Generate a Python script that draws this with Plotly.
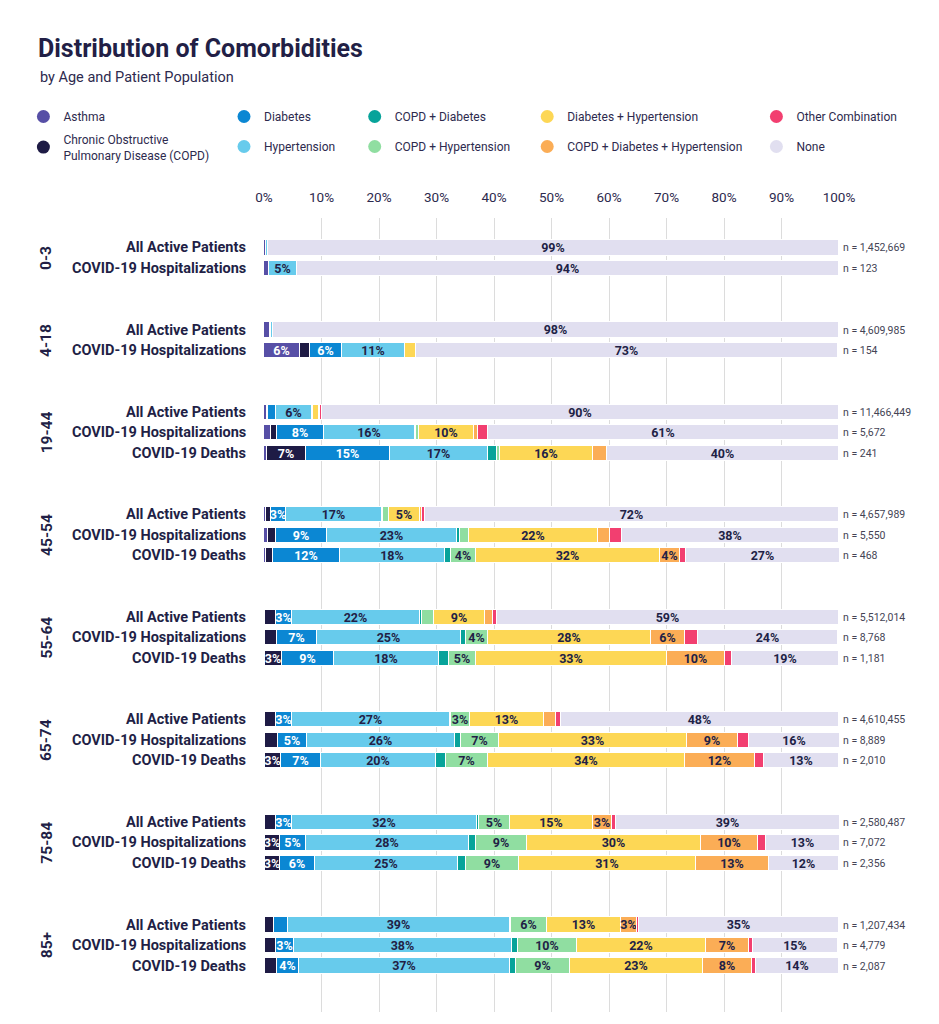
import plotly.graph_objects as go

# ---------------- data ----------------
age_groups = ["0-3", "4-18", "19-44", "45-54", "55-64", "65-74", "75-84", "85+"]
group_sizes = [2, 2, 3, 3, 3, 3, 3, 3]
populations = ["All Active Patients", "COVID-19 Hospitalizations", "COVID-19 Deaths"]

n_patients = [1452669, 123, 4609985, 154, 11466449, 5672, 241, 4657989, 5550, 468,
              5512014, 8768, 1181, 4610455, 8889, 2010, 2580487, 7072, 2356,
              1207434, 4779, 2087]

series_names = ["Asthma", "Chronic Obstructive Pulmonary Disease (COPD)", "Diabetes",
                "Hypertension", "COPD + Diabetes", "COPD + Hypertension",
                "Diabetes + Hypertension", "COPD + Diabetes + Hypertension",
                "Other Combination", "None"]
legend_labels = ["Asthma", "Chronic Obstructive<br>Pulmonary Disease (COPD)", "Diabetes",
                 "Hypertension", "COPD + Diabetes", "COPD + Hypertension",
                 "Diabetes + Hypertension", "COPD + Diabetes + Hypertension",
                 "Other Combination", "None"]

asthma = [0.4, 0.8, 1.0, 6.3, 0.5, 1.2, 0.6, 0.4, 0.75, 0.35, 0.2, 0.15, 0.1, 0.1, 0.1,
          0.1, 0.1, 0.1, 0.1, 0.1, 0.1, 0.1]
copd = [0.0, 0.0, 0.0, 1.7, 0.2, 1.0, 6.7, 0.8, 1.25, 1.25, 1.8, 2.05, 3.1, 1.9, 2.3,
        2.9, 1.9, 2.6, 2.7, 1.7, 2.0, 2.1]
diabetes = [0.0, 0.0, 0.3, 5.6, 1.3, 8.2, 14.6, 2.7, 8.9, 11.6, 2.9, 7.1, 9.0, 2.9, 5.0,
            6.9, 2.9, 4.6, 6.0, 2.3, 3.2, 3.8]
hypertension = [0.3, 4.9, 0.3, 10.9, 6.3, 15.9, 17.0, 16.7, 22.7, 18.3, 22.3, 25.0, 18.2,
                27.4, 25.8, 20.0, 32.1, 28.4, 24.9, 38.6, 37.8, 36.7]
copd_diabetes = [0.0, 0.0, 0.0, 0.0, 0.1, 0.2, 1.7, 0.1, 0.4, 1.1, 0.3, 0.9, 1.8, 0.2, 1.1,
                 1.8, 0.4, 1.2, 1.5, 0.2, 1.0, 1.2]
copd_hypertension = [0.0, 0.0, 0.0, 0.0, 0.1, 0.5, 0.4, 1.0, 1.6, 4.3, 2.0, 3.8, 4.6, 3.3,
                     6.6, 7.3, 5.3, 8.8, 9.1, 6.4, 10.4, 9.4]
diabetes_hypertension = [0.0, 0.0, 0.0, 2.0, 1.1, 9.6, 16.2, 5.4, 22.4, 31.9, 8.9, 28.3,
                         33.3, 12.9, 32.6, 34.2, 14.6, 30.3, 30.9, 12.8, 22.4, 23.1]
copd_diabetes_hypertension = [0.0, 0.0, 0.0, 0.0, 0.1, 0.6, 2.4, 0.3, 2.2, 3.6, 1.4, 5.9,
                              10.0, 2.0, 8.9, 12.2, 3.3, 9.9, 12.7, 2.7, 7.4, 8.4]
other_combination = [0.0, 0.0, 0.0, 0.0, 0.3, 1.7, 0.0, 0.6, 2.0, 1.0, 0.8, 2.3, 1.3, 1.0,
                     2.0, 1.6, 0.7, 1.4, 0.0, 0.5, 0.7, 0.8]
none = [99.3, 94.3, 98.4, 73.4, 90.0, 61.1, 40.4, 72.0, 37.8, 26.8, 59.4, 24.4, 18.6, 48.3,
        15.7, 13.0, 38.8, 12.8, 12.1, 34.7, 14.8, 14.4]

series_values = [asthma, copd, diabetes, hypertension, copd_diabetes, copd_hypertension,
                 diabetes_hypertension, copd_diabetes_hypertension, other_combination, none]

# ---------------- style ----------------
series_colors = ["#574fa6", "#1e1b45", "#0b87d3", "#67cbec", "#07a39a", "#90dea1",
                 "#fdd755", "#fbad56", "#f23f70", "#e1dff0"]
label_colors = ["white", "white", "white", "#221f46", "#221f46", "#221f46",
                "#221f46", "#221f46", "#221f46", "#221f46"]
NAVY = "#221f46"
TXT = "#2d2a4e"
FONT = "Roboto, Liberation Sans, sans-serif"

W, H = 939, 1024
L, R, T, B = 264, 100, 218, 12
PW, PH = W - L - R, H - T - B


def px_to_paper_x(px):
    return (px - L) / PW


def px_to_paper_y(py):
    return (H - B - py) / PH


# rows: positions derived from group structure (2 blank rows between groups)
row_group, row_label, row_pos = [], [], []
p = 0
for g, size in zip(age_groups, group_sizes):
    for i in range(size):
        row_group.append(g)
        row_label.append(populations[i])
        row_pos.append(p + i)
    p += size + 2

fig = go.Figure()

for i, (name, vals, color) in enumerate(zip(series_names, series_values, series_colors)):
    txt = [f"{round(v)}%" if round(v) >= 3 else "" for v in vals]
    fig.add_trace(go.Bar(
        x=vals, y=row_pos, orientation="h", name=name, width=0.74,
        marker=dict(color=color, line=dict(color="white", width=1)),
        text=txt, textposition="inside", insidetextanchor="middle", textangle=0,
        insidetextfont=dict(color=label_colors[i], size=12.5, family=FONT, weight=700),
        showlegend=False, hoverinfo="skip"))

# legend entries (circles) in 5 columns, markers kept off the visible range
legend_dot_px = [46.7, 247.3, 378, 550.5, 779.7]
for i, (lab, color) in enumerate(zip(legend_labels, series_colors)):
    col = i // 2
    fig.add_trace(go.Scatter(
        x=[-50], y=[-50], mode="markers", name=lab, legendgroup=series_names[i],
        legend="legend" if col == 0 else f"legend{col + 1}", cliponaxis=True,
        marker=dict(color=color, size=13, symbol="circle"), showlegend=True,
        hoverinfo="skip"))

legend_layout = {}
for col, dx in enumerate(legend_dot_px):
    key = "legend" if col == 0 else f"legend{col + 1}"
    legend_layout[key] = dict(
        xref="container", yref="container", x=(dx - 3 - 20.3) / W, y=1 - 102 / H,
        xanchor="left", yanchor="top", orientation="v", traceorder="grouped",
        tracegroupgap=4 if col == 0 else 11, itemsizing="trace", itemwidth=30,
        font=dict(family=FONT, size=12, color=TXT), bgcolor="rgba(0,0,0,0)")

annotations = [dict(
    text="by Age and Patient Population", xref="paper", x=px_to_paper_x(38),
    xanchor="left", yref="paper", y=px_to_paper_y(77), yanchor="middle",
    showarrow=False, font=dict(family=FONT, size=14.5, color=TXT))]

for y, lab, n in zip(row_pos, row_label, n_patients):
    annotations.append(dict(
        text=lab, xref="paper", x=0, xanchor="right", xshift=-16, yref="y", y=y,
        yanchor="middle", showarrow=False,
        font=dict(family=FONT, size=14.5, color=NAVY, weight=700)))
    annotations.append(dict(
        text=f"n = {n:,}", xref="x", x=100, xanchor="left", xshift=2, yref="y", y=y,
        yanchor="middle", showarrow=False, font=dict(family=FONT, size=10.5, color="#444455")))

for g in age_groups:
    ys = [y for y, gg in zip(row_pos, row_group) if gg == g]
    annotations.append(dict(
        text=g, xref="paper", x=px_to_paper_x(46.7), xanchor="center", yref="y",
        y=sum(ys) / len(ys), yanchor="middle", textangle=-90, showarrow=False,
        font=dict(family=FONT, size=15.5, color=NAVY, weight=700)))

fig.update_layout(
    width=W, height=H,
    margin=dict(l=L, r=R, t=T, b=B, autoexpand=False),
    paper_bgcolor="white", plot_bgcolor="white",
    barmode="stack", bargap=0,
    title=dict(
        text="Distribution of Comorbidities", xref="container", yref="container",
        x=38 / W, xanchor="left", y=1 - 39 / H, yanchor="top",
        font=dict(family=FONT, size=25, color=NAVY, weight=700)),
    xaxis=dict(range=[0, 100], side="top", dtick=10, ticksuffix="%",
               showgrid=True, gridcolor="#dcdcdc", gridwidth=1, zeroline=False,
               showline=False, ticks="outside", ticklen=10, tickcolor="rgba(0,0,0,0)",
               tickfont=dict(family=FONT, size=13.5, color=TXT), fixedrange=True),
    yaxis=dict(range=[37.24, -1.46], showticklabels=False, showgrid=False,
               zeroline=False, showline=False, fixedrange=True),
    uniformtext=dict(minsize=12.5, mode="show"),
    annotations=annotations,
    **legend_layout,
)

fig.write_html("out.html")
